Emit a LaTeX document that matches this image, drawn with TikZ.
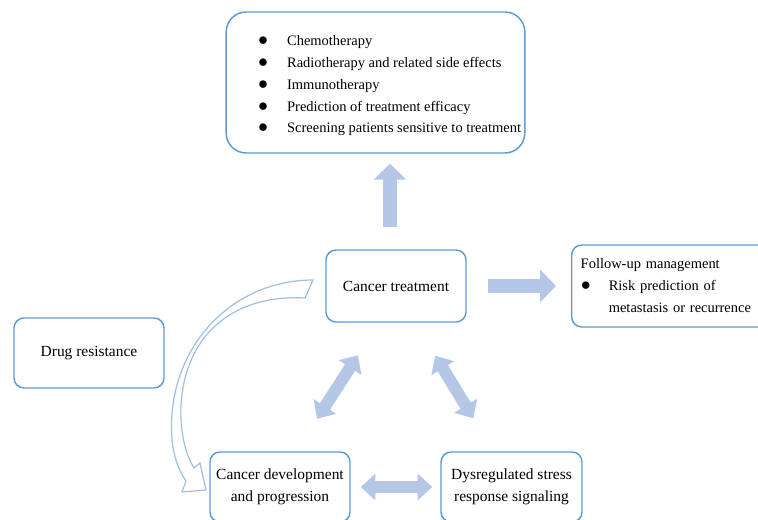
\documentclass[tikz,border=0pt]{standalone}
\usepackage{fontspec}
\setmainfont{Liberation Serif}
\usetikzlibrary{arrows.meta,calc}
\definecolor{boxblue}{RGB}{91,155,213}
\definecolor{flowblue}{RGB}{180,199,231}
\definecolor{curveblue}{RGB}{160,190,228}
\newcommand{\dotmark}{{\fontsize{13pt}{13pt}\selectfont ●}}

\begin{document}
\begin{tikzpicture}[x=0.75pt,y=-0.75pt,
    font=\fontsize{11.6pt}{16.5pt}\selectfont,
    box/.style={draw=boxblue, line width=1.1pt, rounded corners=7.5pt, align=center, inner sep=0pt},
    listfont/.style={font=\fontsize{10.85pt}{16.3pt}\selectfont},
    oneway/.style={draw=flowblue, line width=10.5pt, -{Triangle[width=24pt,length=12pt]}},
    twoway/.style={draw=flowblue, line width=9pt, {Triangle[width=19.5pt,length=11pt]}-{Triangle[width=19.5pt,length=11pt]}},
    hollow/.style={draw=curveblue, fill=white, line width=0.9pt}]
\useasboundingbox (0,0) rectangle (758,520);
\clip (0,0) rectangle (758,520);

\node[box, rounded corners=15pt, minimum width=224pt, minimum height=105.75pt] (top) at (375.5,82.5) {};
\node[listfont, anchor=west, inner sep=0pt] (toplist) at (257.5,85) {\begin{tabular}{@{}l@{\hspace{14.2pt}}l@{}}
\dotmark & Chemotherapy\\
\dotmark & Radiotherapy and related side effects\\
\dotmark & Immunotherapy\\
\dotmark & Prediction of treatment efficacy\\
\dotmark & Screening patients sensitive to treatment
\end{tabular}};

\node[box, minimum width=105pt, minimum height=54pt] (treat) at (396,286) {Cancer treatment};
\node[box, listfont, anchor=west, align=left, text width=160pt, inner xsep=6.75pt, minimum height=61.5pt] (follow) at (571,286) {\begin{tabular}{@{}l@{\hspace{13.2pt}}l@{}}
\multicolumn{2}{@{}l@{}}{Follow-up management}\\
\dotmark & Risk prediction of\\
 & metastasis or recurrence
\end{tabular}};
\node[box, minimum width=112.5pt, minimum height=52.5pt] (drug) at (89,353) {Drug resistance};
\node[box, minimum width=105pt, minimum height=52.5pt] (dev) at (280,487) {Cancer development\\and progression};
\node[box, minimum width=105.75pt, minimum height=52.5pt] (dys) at (511.5,487) {Dysregulated stress\\response signaling};

\coordinate (upfoot) at ($(treat.north)+(-6,0)$);
\draw[oneway, shorten <=16.5pt, shorten >=7.5pt] (upfoot) -- (upfoot |- top.south);
\draw[oneway, shorten <=15.75pt, shorten >=11.25pt] (treat.east) -- (follow.west);
\draw[twoway, shorten <=29pt, shorten >=29pt] ($(treat.south)+(-17,0)$) -- ($(dev.north)+(16,0)$);
\draw[twoway, shorten <=29pt, shorten >=29pt] ($(treat.south)+(19,0)$) -- ($(dys.north)+(-18,0)$);
\draw[twoway, shorten <=7.5pt, shorten >=6pt] (dev.east) -- (dys.west);

\draw[hollow] (313,280) .. controls (230,280) and (165,350) .. (172,440)
  .. controls (174,458) and (179,471) .. (186,481) -- (182,492) -- (206,490) -- (200,463) -- (194,468)
  .. controls (176,440) and (172,370) .. (211,330) .. controls (235,305) and (270,296) .. (305,298) -- cycle;
\end{tikzpicture}
\end{document}
